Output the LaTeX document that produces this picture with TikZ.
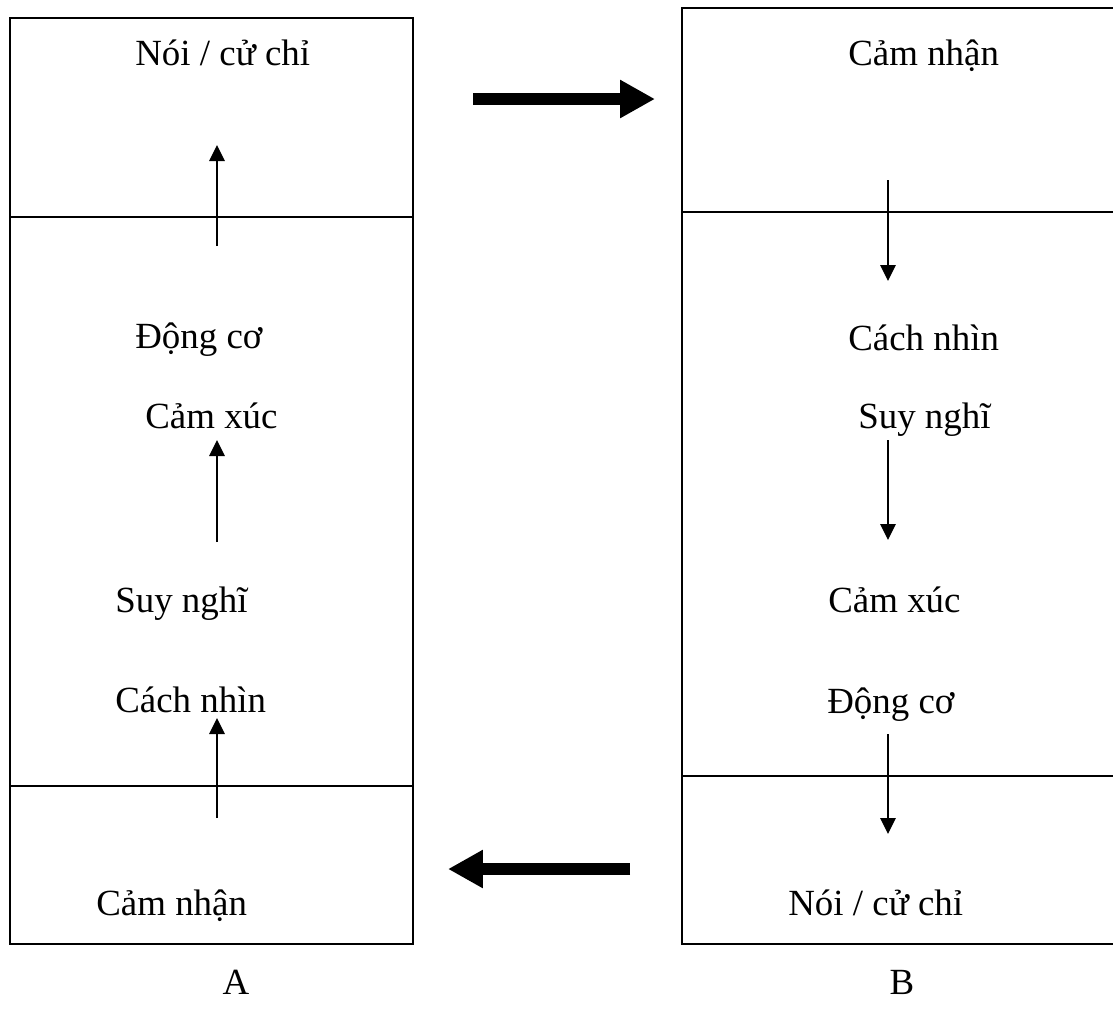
\documentclass[tikz,border=0pt]{standalone}
\usepackage{fontspec}
\setmainfont{Liberation Serif}
\usetikzlibrary{arrows.meta}
\tikzset{
  frame/.style={line width=1.1pt},
  lbl/.style={anchor=base west,inner sep=0pt,font=\fontsize{21}{25}\selectfont},
  flow/.style={line width=0.75pt,-{Triangle[length=0.32cm,width=0.31cm]}},
  bigflow/.style={line width=6.8pt,-{Triangle[length=0.7cm,width=0.72cm]}}
}
\begin{document}
\begin{tikzpicture}[x=0.02cm,y=-0.02cm]
			\useasboundingbox (0,0) rectangle (1113,1019);
			\draw[frame] (10,18) rectangle (413,944);
			\draw[frame] (10,217) -- (413,217);
			\draw[frame] (10,786) -- (413,786);
			\draw[frame] (1113,8) -- (682,8) -- (682,944) -- (1113,944);
			\draw[frame] (682,212) -- (1113,212);
			\draw[frame] (682,776) -- (1113,776);
			\node[lbl] (lnoi) at (135,65) {Nói / cử chỉ};
			\node[lbl] (ldong) at (135,348) {Động cơ};
			\node[lbl] (lxuc) at (145,428) {Cảm xúc};
			\node[lbl] (lsuy) at (115,612) {Suy nghĩ};
			\node[lbl] (lnhin) at (115,712) {Cách nhìn};
			\node[lbl] (lcam) at (96,915) {Cảm nhận};
			\node[lbl] (rcam) at (848,65) {Cảm nhận};
			\node[lbl] (rnhin) at (848,350) {Cách nhìn};
			\node[lbl] (rsuy) at (858,428) {Suy nghĩ};
			\node[lbl] (rxuc) at (828,612) {Cảm xúc};
			\node[lbl] (rdong) at (827,713) {Động cơ};
			\node[lbl] (rnoi) at (788,915) {Nói / cử chỉ};
			\node[lbl,anchor=base] (labA) at (236,994) {A};
			\node[lbl,anchor=base] (labB) at (902,994) {B};
			\coordinate (la1) at (217,246);
			\coordinate (lb1) at (217,145);
			\coordinate (la2) at (217,542);
			\coordinate (lb2) at (217,440);
			\coordinate (la3) at (217,818);
			\coordinate (lb3) at (217,718);
			\coordinate (ra1) at (888,180);
			\coordinate (rb1) at (888,281);
			\coordinate (ra2) at (888,440);
			\coordinate (rb2) at (888,540);
			\coordinate (ra3) at (888,734);
			\coordinate (rb3) at (888,834);
			\coordinate (go1) at (473,99);
			\coordinate (go2) at (655,99);
			\coordinate (back1) at (630,869);
			\coordinate (back2) at (448,869);
			\draw[flow] (la1) -- (lb1);
			\draw[flow] (la2) -- (lb2);
			\draw[flow] (la3) -- (lb3);
			\draw[flow] (ra1) -- (rb1);
			\draw[flow] (ra2) -- (rb2);
			\draw[flow] (ra3) -- (rb3);
			\draw[bigflow] (go1) -- (go2);
			\draw[bigflow] (back1) -- (back2);
\end{tikzpicture}
\end{document}
